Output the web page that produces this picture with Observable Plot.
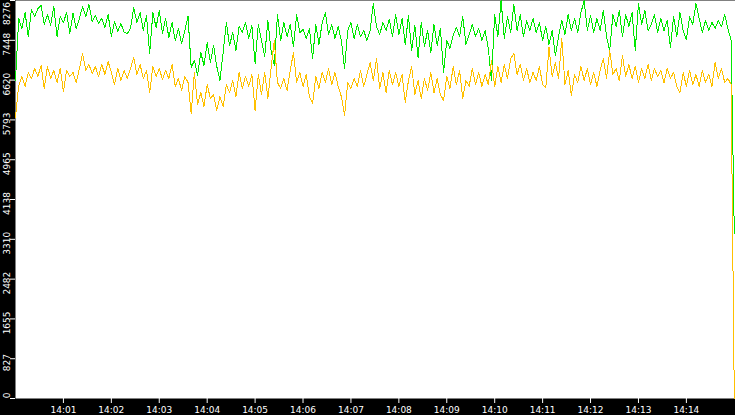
<!DOCTYPE html>
<html><head><meta charset="utf-8">
<script src="https://cdn.jsdelivr.net/npm/d3@7"></script>
<script src="https://cdn.jsdelivr.net/npm/@observablehq/plot@0.6"></script>
<style>html,body{margin:0;padding:0;background:#fff;overflow:hidden;}</style>
</head><body><div id="chart"></div>
<script>
const stepSeconds = 4;
const startTime = [14, 0, 0];
const green = [
6612,7902,7694,8026,7527,8089,7943,8110,8172,7777,
7985,7756,8151,7527,7943,7819,8026,7590,8006,7694,
7902,8151,7943,8193,7839,7964,7798,7902,7715,7985,
7527,7839,7631,7798,7611,7590,7694,8130,7819,8026,
7652,7964,7174,8026,7715,8068,7590,7902,7507,7819,
7444,7694,7382,7652,7943,6883,7028,6716,7195,6924,
7403,6987,7340,6904,6612,7195,7819,7340,7611,7236,
7735,7611,7819,7486,7756,6966,7777,7444,7112,7860,
7236,6924,7985,7444,7819,7527,7777,7319,7985,7611,
7673,7486,7694,7070,7777,7361,7819,8026,7569,7777,
7486,7735,7444,6862,7652,7819,7486,7777,7527,7652,
7444,7652,8214,7735,7569,7819,7652,7881,7527,7985,
7569,7902,7361,7964,7236,7756,7091,7819,7319,7652,
7195,7777,7340,7694,6779,7444,7278,7548,7715,7527,
7943,7361,7569,7777,7527,7694,7444,7652,7278,6612,
7985,7527,8276,7486,7943,7611,8193,7652,7985,7527,
7860,7652,7902,7611,7819,7444,7735,7361,7652,7132,
7527,7860,7569,7985,7652,7902,7611,8026,8276,7652,
7964,7611,7902,7652,8068,7527,7236,7985,7735,8068,
7527,7985,7735,8026,7236,8214,7777,8068,7652,7777,
7985,7611,7902,7652,7860,7299,7943,7527,8026,7652,
7465,7943,7777,8214,7902,7611,7860,7652,7819,7694,
7860,7735,7985,7694,7444,3431
];
const yellow = [
5843,6508,6696,6488,6779,6654,6862,6696,6924,6446,
6904,6654,6820,6571,6862,6384,6820,6696,6779,6571,
6862,7174,6820,6945,6758,6904,6696,6945,6737,7008,
6779,6529,6862,6612,6820,6654,6862,7091,6737,6945,
6654,6820,6363,6904,6696,6862,6633,6820,6654,6945,
6488,6654,6404,6696,6571,5926,6779,6113,6363,6072,
6529,6238,6321,5989,6280,6072,6529,6363,6612,6280,
6779,6446,6696,6488,6737,5989,6737,6321,6779,6238,
6862,7444,6571,6446,6654,6404,6820,7195,6571,6779,
6488,6737,6280,6134,6696,6446,6779,6571,6862,6529,
6779,6488,6280,5885,6571,6446,6654,6488,6820,6488,
6737,6987,6612,7070,6446,6779,6363,6820,6529,6779,
6488,6737,6155,6612,6904,6321,6612,6238,6654,6404,
6779,6363,6654,6321,6196,6696,6446,6904,6529,6820,
6238,6612,6488,6862,6529,6779,6488,6737,6529,7028,
6488,6904,6571,6945,6654,7070,7174,6737,6945,6612,
6862,6571,6779,6612,6904,6529,6467,7299,6696,6987,
6654,7486,6529,6820,6300,6737,6571,6904,6612,6862,
6529,6779,6488,6820,7070,6654,7236,6737,6862,6612,
7132,6696,6945,6654,6904,6571,6862,6654,6945,6612,
6862,6696,6820,6571,6862,6654,6779,6488,6363,6779,
6488,6820,6529,6737,6488,6820,6571,6737,6488,6987,
6654,6862,6571,6654,6529,0
];
const yTickValues = [0, 827, 1655, 2482, 3310, 4138, 4965, 5793, 6620, 7448, 8276];
const xTickLabels = ["14:01","14:02","14:03","14:04","14:05","14:06","14:07","14:08","14:09","14:10","14:11","14:12","14:13","14:14"];
const yMax = 8276;
const endPadSeconds = 1.5;

const t0 = new Date(2024, 0, 1, startTime[0], startTime[1], startTime[2]);
const rows = green.map((g, i) => ({time: new Date(+t0 + i * stepSeconds * 1000), green: g, yellow: yellow[i]}));
const xTicks = xTickLabels.map(s => { const [h, m] = s.split(":").map(Number); return new Date(2024, 0, 1, h, m, 0); });
const fmt = d3.timeFormat("%H:%M");
const yFmt = d => String(d);
const tEnd = new Date(+rows[rows.length - 1].time + endPadSeconds * 1000);

const chart = Plot.plot({
  width: 735, height: 415,
  marginLeft: 15, marginRight: 0, marginTop: 0, marginBottom: 17,
  style: {background: "black", color: "white", fontFamily: "'DejaVu Sans', sans-serif", fontSize: "9px", overflow: "visible"},
  x: {type: "time", domain: [rows[0].time, tEnd]},
  y: {domain: [0, yMax]},
  marks: [
    Plot.frame({fill: "white", stroke: "none"}),
    Plot.lineY(rows, {x: "time", y: "green", stroke: "#00e800", strokeWidth: 1, shapeRendering: "crispEdges"}),
    Plot.lineY(rows, {x: "time", y: "yellow", stroke: "#ffc000", strokeWidth: 1, shapeRendering: "crispEdges"}),
    Plot.axisX(xTicks, {tickSize: 5, tickPadding: 3, tickFormat: fmt, label: null, stroke: "white", fill: "white"}),
    Plot.axisY(yTickValues, {tickSize: 5, tickFormat: () => "", label: null, stroke: "white"}),
    Plot.axisY(yTickValues.slice(1, -1), {tickSize: 0, tickPadding: 6, tickRotate: -90, dy: 4, tickFormat: yFmt, label: null, fill: "white"}),
    Plot.axisY(yTickValues.slice(0, 1), {tickSize: 0, tickPadding: 6, tickRotate: -90, dy: -3, tickFormat: yFmt, label: null, fill: "white"}),
    Plot.axisY(yTickValues.slice(-1), {tickSize: 0, tickPadding: 6, tickRotate: -90, dy: 13, tickFormat: yFmt, label: null, fill: "white"})
  ]
});
document.getElementById("chart").appendChild(chart);
</script>
</body></html>
